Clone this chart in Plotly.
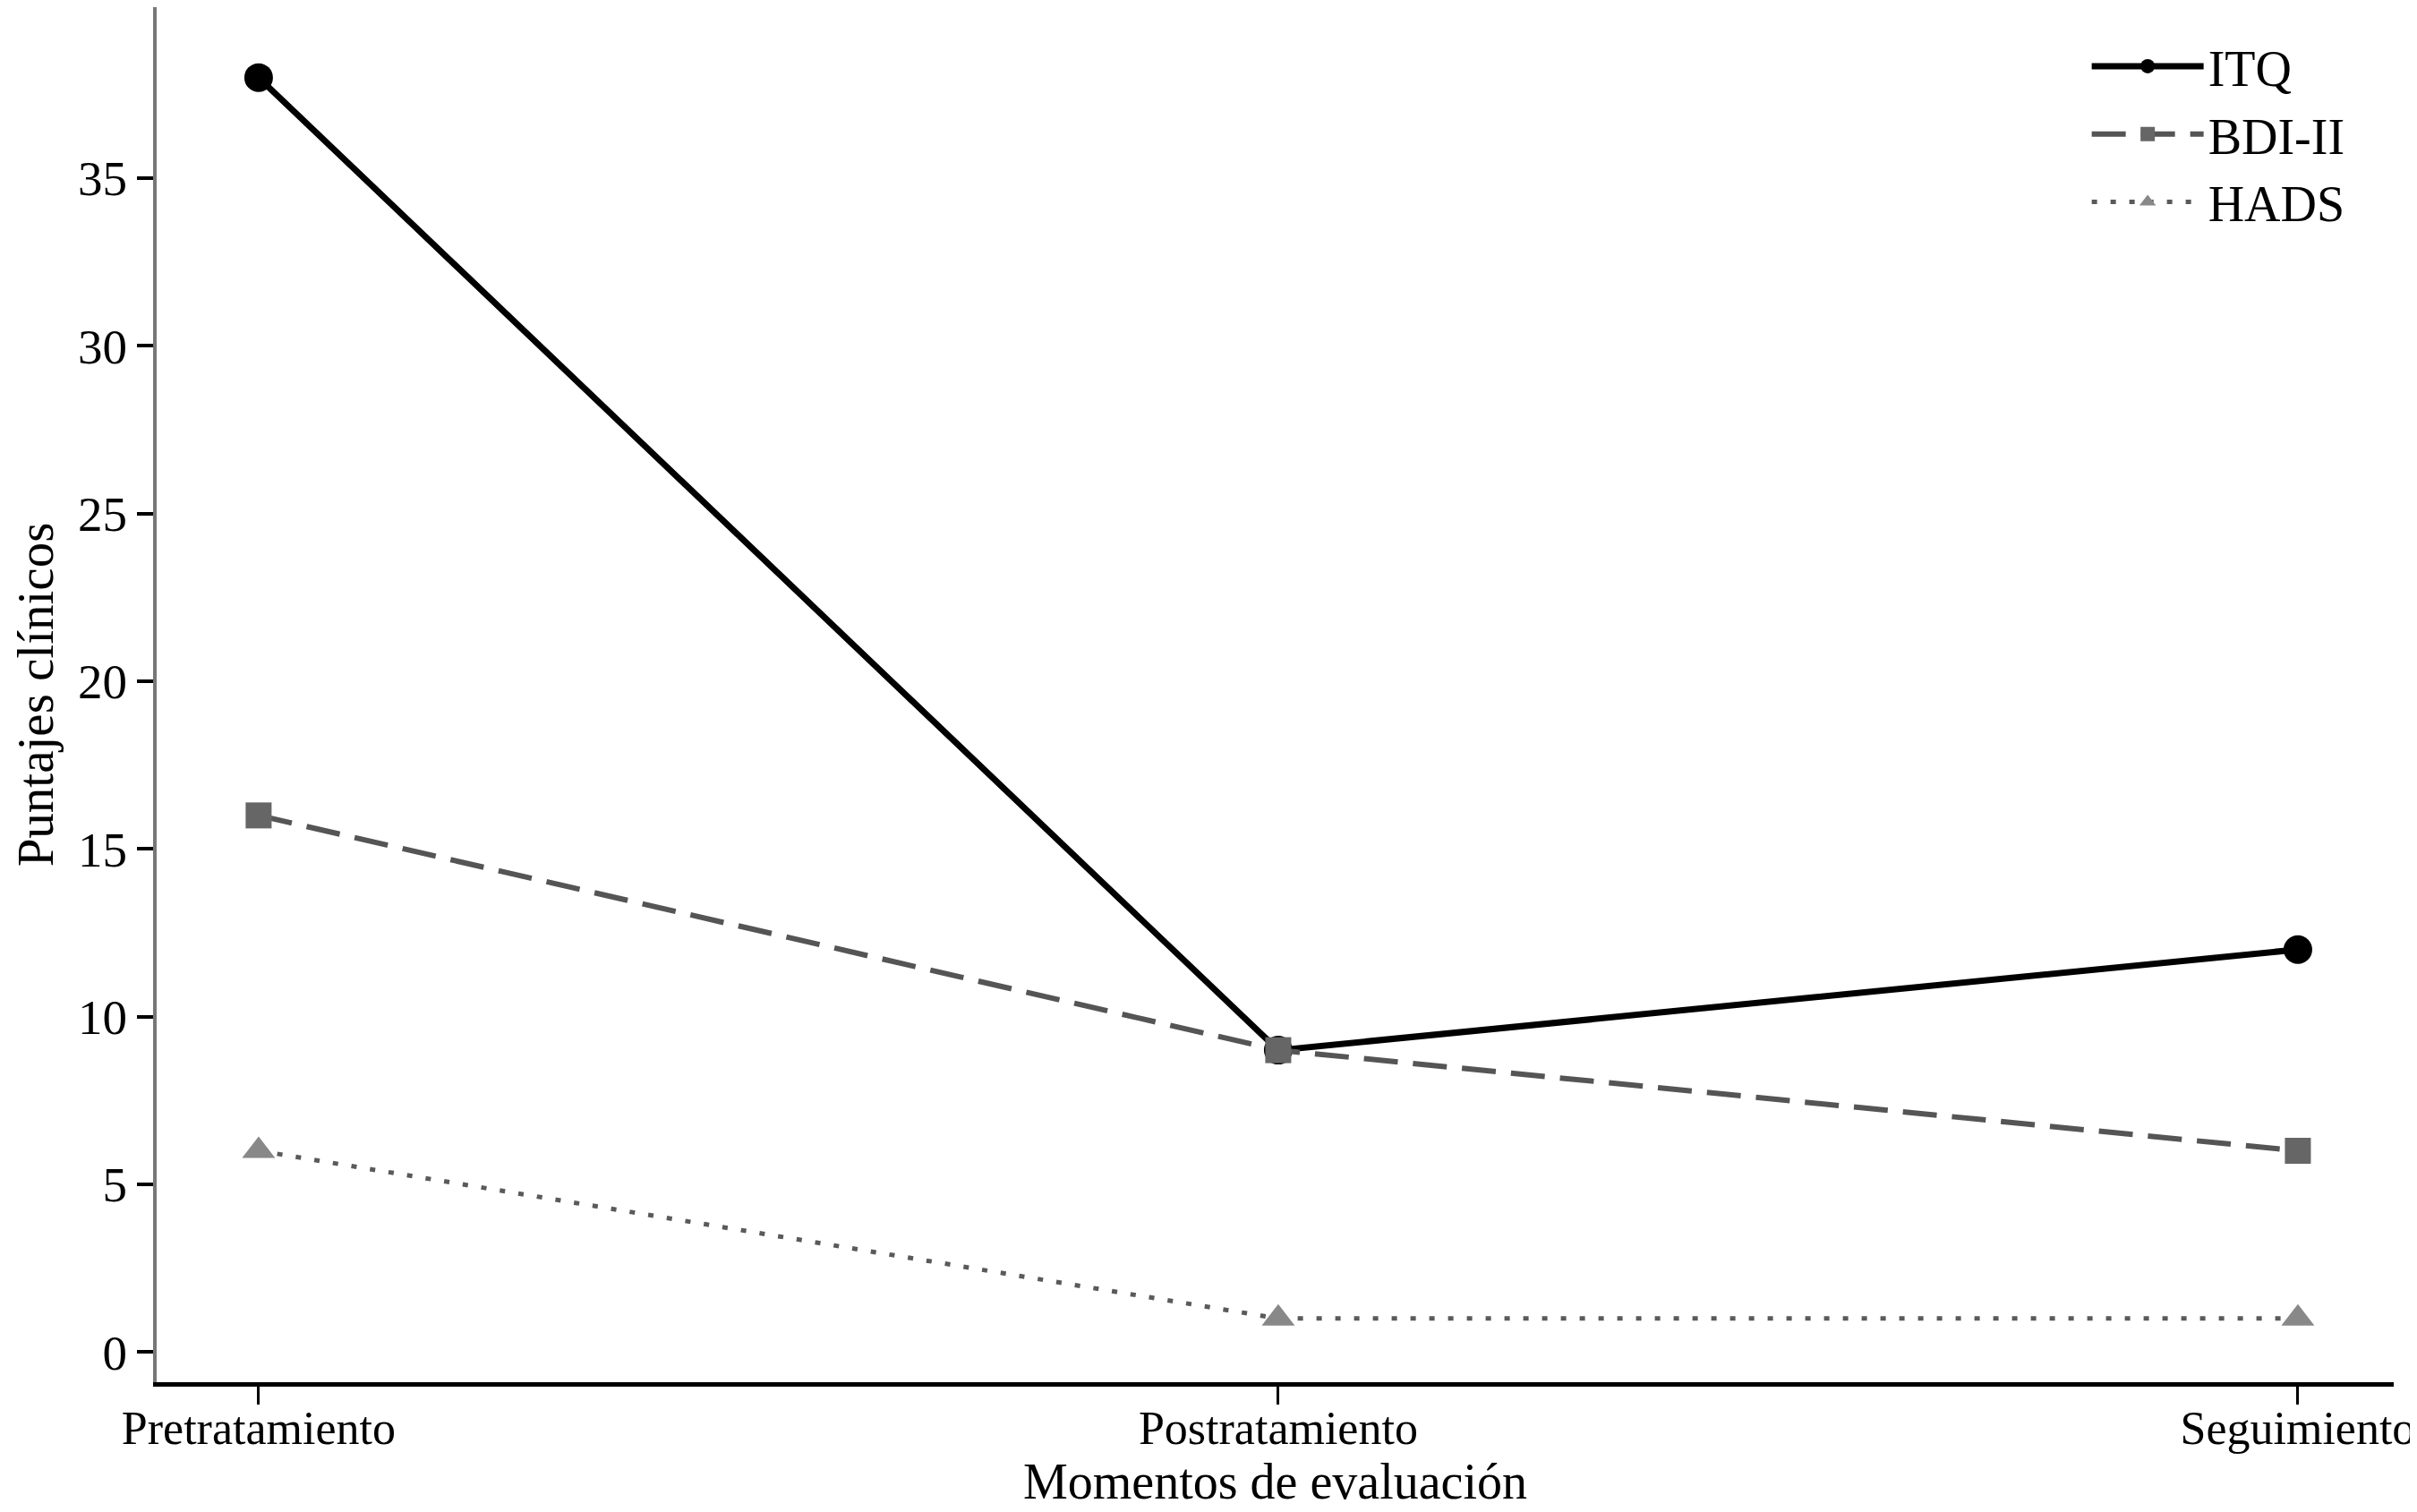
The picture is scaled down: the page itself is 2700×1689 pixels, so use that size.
import plotly.graph_objects as go

momentos = ["Pretratamiento", "Postratamiento", "Seguimiento"]
itq = [38, 9, 12]
bdi = [16, 9, 6]
hads = [6, 1, 1]

fuente = "Liberation Serif"

fig = go.Figure()
fig.add_trace(go.Scatter(
    x=momentos, y=itq, name="ITQ", mode="lines+markers",
    line=dict(color="black", width=7),
    marker=dict(symbol="circle", size=32, color="black")))
fig.add_trace(go.Scatter(
    x=momentos, y=bdi, name="BDI-II", mode="lines+markers",
    line=dict(color="#555555", width=6, dash="38px,17px"),
    marker=dict(symbol="square", size=29, color="#666666")))
fig.add_trace(go.Scatter(
    x=momentos, y=hads, name="HADS", mode="lines+markers",
    line=dict(color="#5a5a5a", width=5, dash="6px,15px"),
    marker=dict(symbol="triangle-up", size=32, color="#888888")))

fig.update_layout(
    template="none",
    width=2700, height=1689,
    margin=dict(l=167, r=34, t=0, b=153),
    paper_bgcolor="white", plot_bgcolor="white",
    font=dict(family=fuente, size=54, color="black"),
    legend=dict(x=0.863, y=0.985, xanchor="left", yanchor="top",
                itemwidth=125, font=dict(size=56),
                bgcolor="rgba(0,0,0,0)"),
    xaxis=dict(
        title=dict(text="Momentos de evaluación", standoff=0,
                   font=dict(size=56)),
        range=[-0.1, 2.094], showgrid=False, zeroline=False,
        showline=True, linecolor="black", linewidth=5,
        ticks="outside", ticklen=20, tickwidth=3, tickcolor="black",
        ticklabelstandoff=-18, tickfont=dict(size=52),
        automargin=False),
    yaxis=dict(
        title=dict(text="Puntajes clínicos", standoff=42,
                   font=dict(size=57)),
        range=[-0.9, 40.1], tickvals=[0, 5, 10, 15, 20, 25, 30, 35],
        showgrid=False, zeroline=False,
        showline=True, linecolor="#777777", linewidth=4,
        ticks="outside", ticklen=18, tickwidth=4, tickcolor="black",
        tickfont=dict(size=55),
        automargin=False),
)

fig.write_html("out.html")
